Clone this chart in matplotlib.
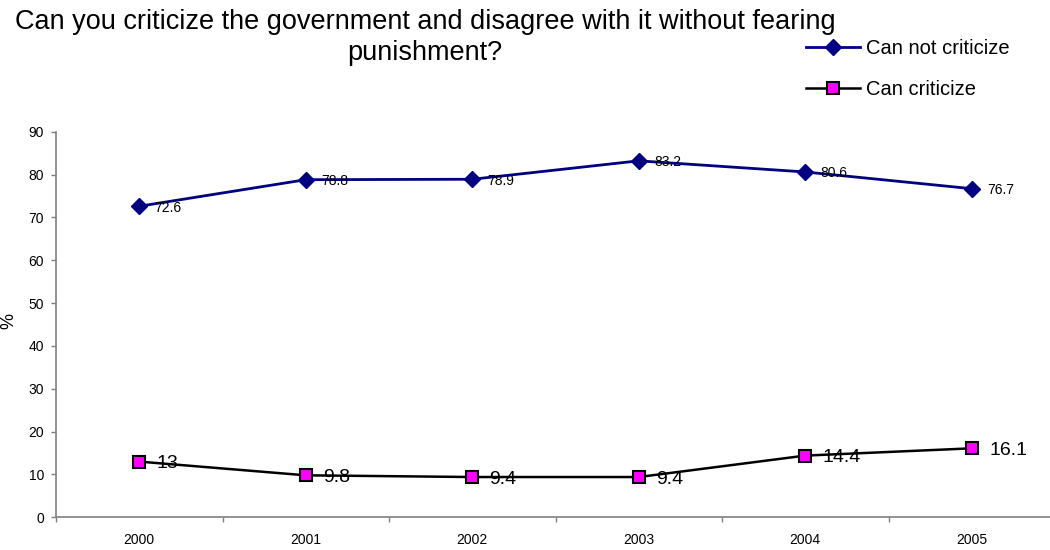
import matplotlib
matplotlib.use("Agg")
from matplotlib import pyplot as plt

plt.rcParams['font.family'] = ['Liberation Sans', 'DejaVu Sans']

# data
years = ['2000', '2001', '2002', '2003', '2004', '2005']
cannot = [72.6, 78.8, 78.9, 83.2, 80.6, 76.7]
can = [13, 9.8, 9.4, 9.4, 14.4, 16.1]

W, H = 1050, 550
fig = plt.figure(figsize=(W / 100, H / 100), dpi=100)
ax = fig.add_axes([56 / W, 32.7 / H, 999 / W, 385.6 / H])

x = list(range(len(years)))
l1, = ax.plot(x, cannot, color='#000080', lw=2, marker='D', markersize=8,
              markerfacecolor='#000080', markeredgecolor='#000080',
              label='Can not criticize', clip_on=False)
l2, = ax.plot(x, can, color='black', lw=1.8, marker='s', markersize=8,
              markerfacecolor='#ff00ff', markeredgecolor='black',
              markeredgewidth=1.5, label='Can criticize', clip_on=False)

for i, v in enumerate(cannot):
    ax.annotate(f"{v:g}", (i, v), xytext=(11, 0), textcoords='offset points',
                va='center_baseline', ha='left', fontsize=10, color='black')
for i, v in enumerate(can):
    ax.annotate(f"{v:g}", (i, v), xytext=(12.5, 0), textcoords='offset points',
                va='center_baseline', ha='left', fontsize=14, color='black')

ax.set_xlim(-0.5, len(years) - 0.5)
ax.set_ylim(0, 90)
ax.set_yticks(range(0, 91, 10))
ax.set_xticks(x)
ax.set_xticklabels(years)
ax.set_xticks([i - 0.5 for i in range(len(years) + 1)], minor=True)

for s in ['top', 'right']:
    ax.spines[s].set_visible(False)
for s in ['left', 'bottom']:
    ax.spines[s].set_color('#808080')
    ax.spines[s].set_linewidth(1.2)

ax.tick_params(axis='y', direction='out', length=3.6, width=1, color='#808080',
               pad=5, labelsize=10)
ax.tick_params(axis='x', which='major', length=0, pad=11, labelsize=10)
ax.tick_params(axis='x', which='minor', direction='out', length=3.6, width=1,
               color='#808080')

fig.text(9 / W, 1 - 321 / H, '%', rotation=90, fontsize=13,
         ha='center', va='center')

fig.text(425 / W, 1 - 60 / H,
         "Can you criticize the government and disagree with it without fearing\npunishment?",
         ha='center', va='baseline', multialignment='center', fontsize=19.5,
         linespacing=1.27)

fig.legend(handles=[l1, l2], loc='upper left', bbox_to_anchor=(806 / W, 1 - 39 / H),
           frameon=False, fontsize=14.5, handlelength=2.7, handletextpad=0.3,
           labelspacing=1.1, borderpad=0, borderaxespad=0)

fig.savefig('out.png', dpi=100)
